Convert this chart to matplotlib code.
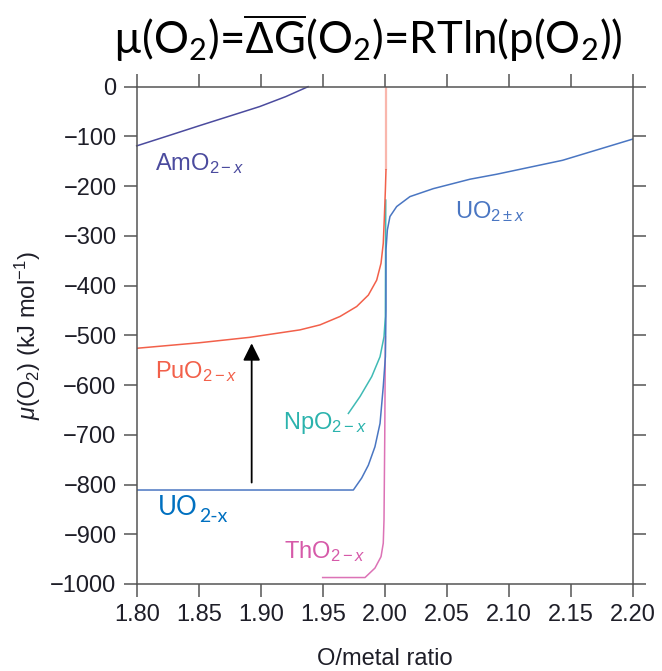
import numpy as np
import matplotlib
matplotlib.use("Agg")
from matplotlib import pyplot as plt

plt.rcParams['font.family'] = ['Liberation Sans', 'DejaVu Sans']
plt.rcParams['mathtext.fontset'] = 'custom'
plt.rcParams['mathtext.rm'] = 'Liberation Sans'
plt.rcParams['mathtext.it'] = 'Liberation Sans:italic'
plt.rcParams['mathtext.bf'] = 'Liberation Sans:bold'

# --- data (O/metal ratio, mu(O2) in kJ/mol) ---
am_x = [1.800, 1.825, 1.851, 1.875, 1.899, 1.920, 1.938]
am_y = [-119, -99, -78, -59, -40, -20, 0]

pu_x = [1.800, 1.850, 1.891, 1.9315, 1.9476, 1.9638, 1.9772, 1.9866, 1.9933,
        1.9968, 1.9986, 1.9994, 2.0003, 2.0008]
pu_y = [-526, -515, -504, -489, -479, -462, -442, -419, -389,
        -355, -315, -268, -208, -167]
pu_top_x = [2.0008, 2.0008]
pu_top_y = [-167, 0]

uo_x = [1.800, 1.9745, 1.9812, 1.9866, 1.9919, 1.9960, 1.9986, 2.0003, 2.0008,
        2.0008, 2.0019, 2.0040, 2.0094, 2.0201, 2.0389, 2.0685, 2.090, 2.143, 2.200]
uo_y = [-811, -811, -787, -761, -724, -677, -603, -543, -449,
        -328, -288, -261, -241, -221, -205, -186, -176, -148, -105]

np_x = [1.9705, 1.9799, 1.9893, 1.9960, 1.9992, 2.0003, 2.0006]
np_y = [-657, -623, -583, -543, -503, -462, -228]

th_x = [1.9498, 1.9839, 1.9919, 1.9968, 1.9986, 1.9992, 1.9998, 2.0003]
th_y = [-987, -987, -968, -945, -918, -871, -704, -503]

arrow_x = 1.8926
arrow_from, arrow_to = -796, -516

xticks = [1.80, 1.85, 1.90, 1.95, 2.00, 2.05, 2.10, 2.15, 2.20]
xtick_labels = ['1.80', '1.85', '1.90', '1.95', '2.00', '2.05', '2.10', '2.15', '2.20']
yticks = [0, -100, -200, -300, -400, -500, -600, -700, -800, -900, -1000]

# colours
c_am = '#4b4b9e'
c_pu = '#f2604a'
c_uo = '#4a76c2'
c_np = '#2bb3ad'
c_th = '#d65aa9'
c_uo_ppt = '#0070c0'
c_axis = '#555555'
c_text = '#1e1e28'

fig = plt.figure(figsize=(6.62, 6.71), dpi=100)
ax = fig.add_axes([136.7 / 662, 1 - 584 / 671, (633.3 - 136.7) / 662, (584 - 86.7) / 671])

lw = 1.1
ax.plot(am_x, am_y, color=c_am, lw=lw, clip_on=False)
ax.plot(pu_top_x, pu_top_y, color=c_pu, lw=1.6, alpha=0.45, solid_capstyle='butt', clip_on=False)
ax.plot(np_x, np_y, color=c_np, lw=lw, alpha=0.9)
ax.plot(pu_x, pu_y, color=c_pu, lw=lw)
ax.plot(th_x, th_y, color=c_th, lw=lw, alpha=0.85)
ax.plot(uo_x, uo_y, color=c_uo, lw=lw)

ax.annotate('', xy=(arrow_x, arrow_to), xytext=(arrow_x, arrow_from),
            arrowprops=dict(arrowstyle='-|>', color='black', lw=1.3,
                            mutation_scale=26, shrinkA=0, shrinkB=0))

# curve labels
lab_fs = 17
ax.text(1.815, -168, r'AmO$_{2-x}$', color=c_am, fontsize=lab_fs)
ax.text(1.815, -585, r'PuO$_{2-x}$', color=c_pu, fontsize=lab_fs)
ax.text(1.9175, -688, r'NpO$_{2-x}$', color=c_np, fontsize=lab_fs)
ax.text(1.9186, -948, r'ThO$_{2-x}$', color=c_th, fontsize=lab_fs)
ax.text(2.0563, -265, r'UO$_{2\pm x}$', color=c_uo, fontsize=lab_fs)

# powerpoint-style label for UO2-x
t_uo = ax.text(1.8174, -862, 'UO', color=c_uo_ppt, fontsize=18.5,
               family=['Lato', 'DejaVu Sans'])
ax.annotate('2-x', xy=(1, 0), xycoords=t_uo, xytext=(0.5, -3.5),
            textcoords='offset points', va='bottom', ha='left',
            color=c_uo_ppt, fontsize=14, family=['Lato', 'DejaVu Sans'])

ax.set_xlim(1.80, 2.20)
ax.set_ylim(-1000, 0)
ax.set_xticks(xticks)
ax.set_xticklabels(xtick_labels)
ax.set_yticks(yticks)

for s in ax.spines.values():
    s.set_color(c_axis)
    s.set_linewidth(1.1)
ax.tick_params(direction='out', length=9.5, width=1.1, color=c_axis,
               top=True, right=True, labelsize=17, labelcolor=c_text, pad=5)

ax.set_xlabel('O/metal ratio', fontsize=17, color=c_text, labelpad=16)
ax.set_ylabel(r'$\mu$(O$_2$) (kJ mol$^{-1}$)', fontsize=17, color=c_text, labelpad=5)

# title with overline on the Delta G
title_fs = 31.5
title_kw = dict(fontsize=title_fs, color='black', family='Lato',
                ha='left', va='baseline')
tx, ty = 113 / 662, 1 - 53 / 671
sub2 = r'$_\mathregular{2}$'
pre1 = '\u00b5(O' + sub2 + ')='
pre2 = pre1 + r'$\mathrm{\Delta}$G'
fig.text(tx, ty, pre2 + '(O' + sub2 + ')=RTln(p(O' + sub2 + '))', **title_kw)
renderer = fig.canvas.get_renderer()
parts = []
for s in [pre1, pre2]:
    tmp = fig.text(tx, ty, s, **title_kw)
    parts.append(tmp.get_window_extent(renderer=renderer).x1)
    tmp.remove()
W, H = fig.get_size_inches() * fig.dpi
y_line = (ty * H + title_fs * 100 / 72 * 0.82) / H
fig.add_artist(plt.Line2D([parts[0] / W + 0.002, parts[1] / W], [y_line, y_line],
                          color='black', lw=1.4, transform=fig.transFigure))

fig.savefig('out.png', dpi=100)
